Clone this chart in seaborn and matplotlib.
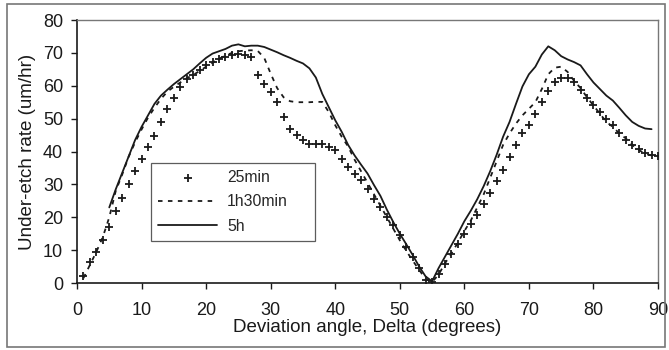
import numpy as np
import pandas as pd
import matplotlib
matplotlib.use("Agg")
import matplotlib.pyplot as plt
import seaborn as sns
from matplotlib.patches import Rectangle

# ---- data ----
x_25min = list(range(1, 91))
y_25min = [2, 6.5, 9.5, 13, 17, 22, 26, 30, 34, 37.7,
           41.4, 44.7, 49, 52.8, 56.4, 59.5, 62, 63.4, 64.8, 66.2,
           67.3, 68.2, 68.8, 69.3, 69.7, 69.4, 68.6, 63.2, 60.4, 58,
           55.1, 50.4, 46.8, 45, 43.5, 42.2, 42.2, 42.2, 41.3, 40.4,
           37.7, 35.4, 33.2, 31.2, 28.5, 25.7, 23, 20.2, 17.5, 14.5,
           11, 7.8, 4.5, 1, 0.3, 2.8, 5.8, 8.8, 11.8, 14.8,
           17.8, 20.8, 24, 27.5, 31, 34.5, 38.2, 42, 45.5, 48,
           51.5, 55, 58.5, 61, 62.5, 62.5, 61, 58.8, 56.2, 54,
           52, 50, 48, 45.5, 43.5, 42, 40.7, 39.5, 38.8, 38.5]

x_1h30 = list(range(1, 90))
y_1h30 = [1.5, 5.5, 9.5, 14, 20, 28, 33, 38.4, 42.8, 46.7,
          50.3, 53.3, 56, 58.2, 59.7, 61, 62.3, 63.3, 64.5, 65.8,
          67, 68.2, 69.2, 70, 70.5, 70.7, 70.8, 70.6, 68.5, 63.7,
          59.3, 56.5, 55.3, 55, 55, 55, 55.1, 55.1, 52, 48,
          44.5, 41.5, 37.5, 34, 30.5, 27, 23.5, 20, 16.5, 13,
          9.8, 6.8, 4, 1.2, 0.3, 2.5, 6, 9, 12.3, 15.8,
          19, 23, 27, 32, 37, 42, 45.5, 48.5, 51, 53,
          55, 59, 63.5, 65.5, 65.8, 64.2, 61.5, 59.3, 56.5, 54,
          51.5, 49, 47.5, 45.5, 44, 42, 40.5, 39.3, 38.8]

x_5h = list(range(5, 90))
y_5h = [23, 28.5, 33.5, 38.5, 43.5, 47.5, 51, 54.5, 57, 58.8,
        60.5, 62, 63.5, 65, 66.8, 68.5, 69.8, 70.5, 71.2, 72.2,
        72.6, 72, 72.2, 72.2, 71.8, 71, 70.2, 69.3, 68.5, 67.6,
        66.8, 65.3, 62.5, 57.5, 53.5, 49.5, 46, 42, 38.8, 36,
        33.3, 29.8, 26.5, 22.3, 18.5, 15, 11.8, 8.5, 5, 2,
        0.5, 4.5, 8, 11.5, 15, 18.8, 22, 25.5, 29.5, 34,
        39, 44.5, 49, 54.5, 59.8, 63.5, 65.8, 69.5, 72, 70.8,
        69, 68, 67.2, 66.2, 63.5, 61, 59, 57, 55.5, 53.3,
        51, 49, 47.8, 47, 46.8]

x_ticks = [0, 10, 20, 30, 40, 50, 60, 70, 80, 90]
y_ticks = [0, 10, 20, 30, 40, 50, 60, 70, 80]

df25 = pd.DataFrame({"x": x_25min, "y": y_25min})
df90 = pd.DataFrame({"x": x_1h30, "y": y_1h30})
df5h = pd.DataFrame({"x": x_5h, "y": y_5h})

sns.set_style("ticks")
plt.rcParams["font.family"] = ["Liberation Sans", "DejaVu Sans"]

ink = "#1a1a1a"
fig = plt.figure(figsize=(6.69, 3.5), dpi=100)
ax = fig.add_axes([0.1151, 0.1914, 0.8685, 0.7514])

sns.scatterplot(data=df25, x="x", y="y", ax=ax, marker="+", s=28,
                color=ink, linewidth=1.3, label="25min", zorder=3)
sns.lineplot(data=df90, x="x", y="y", ax=ax, color=ink, linewidth=1.3,
             linestyle=(0, (2.5, 3)), label="1h30min", zorder=2)
sns.lineplot(data=df5h, x="x", y="y", ax=ax, color=ink, linewidth=1.3,
             label="5h", zorder=2)

ax.set_xlim(0, 90)
ax.set_ylim(0, 80)
ax.set_xticks(x_ticks)
ax.set_yticks(y_ticks)
ax.tick_params(axis="both", labelsize=13, colors=ink, length=4, width=1)
ax.tick_params(axis="x", pad=10)
ax.tick_params(axis="y", pad=6)
ax.set_xlabel("Deviation angle, Delta (degrees)", fontsize=13.5, color=ink, labelpad=0)
ax.set_ylabel("Under-etch rate (um/hr)", fontsize=13.5, color=ink, labelpad=5)

for s in ["left", "bottom"]:
    ax.spines[s].set_color(ink)
    ax.spines[s].set_linewidth(1.2)
for s in ["top", "right"]:
    ax.spines[s].set_visible(True)
    ax.spines[s].set_color("#777777")
    ax.spines[s].set_linewidth(1.0)

leg = ax.legend(loc="lower left", bbox_to_anchor=(0.127, 0.16, 0.283, 0.28),
                mode="expand", borderaxespad=0,
                fontsize=11.3, frameon=True, fancybox=False, handlelength=3.8,
                handletextpad=0.6, labelspacing=0.6, borderpad=0.45,
                edgecolor="#333333")
leg.get_frame().set_linewidth(0.9)

fig.patches.append(Rectangle((0.011, 0.008), 0.983, 0.982, transform=fig.transFigure,
                             fill=False, edgecolor="#777777", linewidth=1.2))

fig.savefig("out.png", dpi=100, facecolor="white")
